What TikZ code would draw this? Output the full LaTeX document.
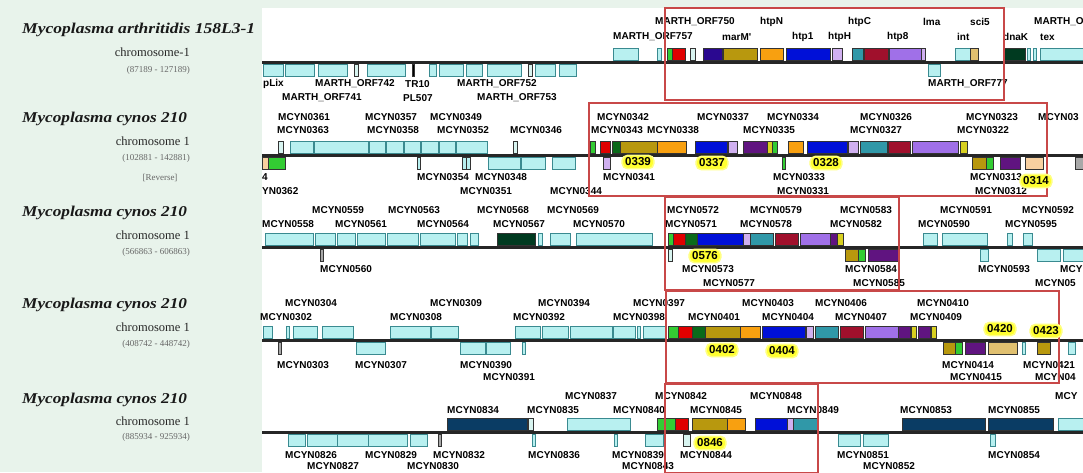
\documentclass[tikz,border=0pt]{standalone}
\usepackage{fontspec}
\usepackage{graphicx}
\setmainfont{Liberation Serif}
\newfontfamily\gfont{Liberation Sans}
\definecolor{bgg}{HTML}{E8F3EB}
\definecolor{cyf}{HTML}{B8F0F0}
\definecolor{cyb}{HTML}{3A8A90}
\definecolor{rbx}{HTML}{C84848}
\definecolor{hly}{HTML}{FFFF30}
\definecolor{gGreen}{HTML}{33CC33}
\definecolor{gRed}{HTML}{E00000}
\definecolor{gDkGreen}{HTML}{0A6A1A}
\definecolor{gOlive}{HTML}{B8980E}
\definecolor{gOrange}{HTML}{F8A010}
\definecolor{gBlue}{HTML}{0010D8}
\definecolor{gLav}{HTML}{D0B0F0}
\definecolor{gTeal}{HTML}{3098A8}
\definecolor{gDkRed}{HTML}{A0102C}
\definecolor{gMPur}{HTML}{A070E8}
\definecolor{gDkPur}{HTML}{601480}
\definecolor{gYel}{HTML}{D8D020}
\definecolor{gTan}{HTML}{E0C070}
\definecolor{gPeach}{HTML}{F8D0A0}
\definecolor{gNavy}{HTML}{0A3C64}
\definecolor{gIndigo}{HTML}{2A0890}
\definecolor{gDkGrB}{HTML}{003A20}
\definecolor{gGray}{HTML}{A8A8A8}
\definecolor{gPale}{HTML}{D8F4F0}
\newcount\labcnt
\newcommand\gnU[3]{\path[gn,fill=#3] (#1,\yu) rectangle (#2,\yu+12);}
\newcommand\gnD[3]{\path[gn,fill=#3] (#1,\yd) rectangle (#2,\yd+12);}
\newcommand\cyU[2]{\path[cg] (#1,\yu) rectangle (#2,\yu+12);}
\newcommand\cyD[2]{\path[cg] (#1,\yd) rectangle (#2,\yd+12);}
\newcommand\GLab[3]{\global\advance\labcnt by 1 \node[glab] (L\the\labcnt) at (#1,#2) {#3};}
\tikzset{
 gn/.style={draw=black!80,line width=0.5pt},
 cg/.style={draw=cyb,fill=cyf,line width=0.9pt},
 bbone/.style={draw=black!85,line width=3pt},
 rbox/.style={draw=rbx,line width=1.4pt},
 glab/.style={anchor=west,inner sep=0pt,font=\gfont\bfseries\fontsize{10}{10}\selectfont,text=black},
 hl/.style={fill=hly,draw=hly!60!white,line width=1.5pt,rounded corners=5pt,inner xsep=3pt,inner ysep=2.5pt,font=\gfont\bfseries\fontsize{11.5}{11.5}\selectfont},
 spn/.style={anchor=west,inner sep=0pt,font=\bfseries\itshape\fontsize{15}{15}\selectfont,text=black!90},
 chr/.style={anchor=east,inner sep=0pt,font=\fontsize{12.5}{12.5}\selectfont,text=black!85},
 crd/.style={anchor=east,inner sep=0pt,font=\fontsize{9}{9}\selectfont,text=black!60},
}
\begin{document}
\begin{tikzpicture}[x=1pt,y=-1pt]
\useasboundingbox (0,0) rectangle (1083,472);
\clip (0,0) rectangle (1083,472);
\fill[bgg] (0,0) rectangle (1083,472);
\fill[white] (262,8) rectangle (1083,472);

% ---------- left labels ----------
\node[spn] (sp1) at (22,30) {\scalebox{1.17}[1]{Mycoplasma arthritidis 158L3-1}};
\node[chr] (ch1) at (190,52) {chromosome-1};
\node[crd] (cr1) at (190,70) {(87189 - 127189)};
\node[spn] (sp2) at (22,119) {\scalebox{1.15}[1]{Mycoplasma cynos 210}};
\node[chr] (ch2) at (190,141) {chromosome 1};
\node[crd] (cr2) at (190,158) {(102881 - 142881)};
\node[crd,anchor=center] (rv2) at (160,178) {[Reverse]};
\node[spn] (sp3) at (22,213) {\scalebox{1.15}[1]{Mycoplasma cynos 210}};
\node[chr] (ch3) at (190,235) {chromosome 1};
\node[crd] (cr3) at (190,252) {(566863 - 606863)};
\node[spn] (sp4) at (22,305) {\scalebox{1.15}[1]{Mycoplasma cynos 210}};
\node[chr] (ch4) at (190,327) {chromosome 1};
\node[crd] (cr4) at (190,344) {(408742 - 448742)};
\node[spn] (sp5) at (22,400) {\scalebox{1.15}[1]{Mycoplasma cynos 210}};
\node[chr] (ch5) at (190,421) {chromosome 1};
\node[crd] (cr5) at (190,437) {(885934 - 925934)};

% ---------- track 1 ----------
\def\yu{48}\def\yd{64}
\foreach \a/\b in {613/638,657/661,955/970,1040/1083,1027/1030,1033/1036} {\cyU{\a}{\b}}
\gnU{667}{672}{gGreen}\gnU{672}{685}{gRed}\gnU{690}{695}{gPale}\gnU{703}{722}{gIndigo}
\gnU{723}{757}{gOlive}\gnU{760}{783}{gOrange}\gnU{786}{830}{gBlue}\gnU{832}{842}{gLav}
\gnU{852}{863}{gTeal}\gnU{864}{888}{gDkRed}\gnU{889}{921}{gMPur}\gnU{921}{925}{gLav}
\gnU{970}{978}{gTan}\gnU{1003}{1025}{gDkGrB}
\foreach \a/\b in {263/283,285/314,318/347,367/405,429/436,439/463,466/482,487/521,535/555,559/576,928/940} {\cyD{\a}{\b}}
\gnD{354}{358}{gPale}\gnD{528}{532}{gPale}\gnD{412}{414}{black}
\draw[bbone] (262,62) -- (1083,62);
\GLab{655}{22}{MARTH\_ORF750}\GLab{760}{22}{htpN}\GLab{848}{22}{htpC}\GLab{923}{22}{lma}\GLab{970}{22}{sci5}\GLab{1034}{22}{MARTH\_O}
\GLab{613}{37}{MARTH\_ORF757}\GLab{722}{37}{marM'}\GLab{792}{37}{htp1}\GLab{828}{37}{htpH}\GLab{887}{37}{htp8}\GLab{957}{37}{int}\GLab{1003}{37}{dnaK}\GLab{1040}{37}{tex}
\GLab{263}{84}{pLix}\GLab{315}{84}{MARTH\_ORF742}\GLab{405}{84}{TR10}\GLab{457}{84}{MARTH\_ORF752}\GLab{928}{84}{MARTH\_ORF777}
\GLab{282}{98}{MARTH\_ORF741}\GLab{403}{98}{PL507}\GLab{477}{98}{MARTH\_ORF753}

% ---------- track 2 ----------
\def\yu{141}\def\yd{157}
\foreach \a/\b in {290/313,314/368,369/385,386/403,404/420,421/438,439/455,456/487} {\cyU{\a}{\b}}
\gnU{278}{283}{gPale}\gnU{513}{517}{gPale}
\gnU{590}{595}{gGreen}\gnU{600}{610}{gRed}\gnU{612}{620}{gDkGreen}\gnU{620}{657}{gOlive}
\gnU{657}{686}{gOrange}\gnU{695}{727}{gBlue}\gnU{728}{737}{gLav}\gnU{743}{767}{gDkPur}
\gnU{767}{772}{gYel}\gnU{772}{777}{gGreen}\gnU{788}{803}{gOrange}\gnU{807}{847}{gBlue}
\gnU{848}{858}{gLav}\gnU{860}{887}{gTeal}\gnU{888}{910}{gDkRed}\gnU{912}{958}{gMPur}\gnU{960}{967}{gYel}
\foreach \a/\b in {488/520,521/545,552/575} {\cyD{\a}{\b}}
\gnD{262}{268}{gPeach}\gnD{268}{285}{gGreen}\gnD{417}{420}{cyf}\gnD{462}{466}{cyf}\gnD{466}{470}{cyf}
\gnD{603}{610}{gLav}\gnD{782}{785}{gGreen}\gnD{972}{986}{gOlive}\gnD{986}{993}{gGreen}
\gnD{1000}{1020}{gDkPur}\gnD{1025}{1043}{gPeach}\gnD{1075}{1083}{gGray}
\draw[bbone] (262,155) -- (1083,155);
\GLab{278}{117}{MCYN0361}\GLab{365}{117}{MCYN0357}\GLab{430}{117}{MCYN0349}\GLab{597}{117}{MCYN0342}
\GLab{697}{117}{MCYN0337}\GLab{767}{117}{MCYN0334}\GLab{860}{117}{MCYN0326}\GLab{966}{117}{MCYN0323}\GLab{1038}{117}{MCYN03}
\GLab{277}{130}{MCYN0363}\GLab{367}{130}{MCYN0358}\GLab{437}{130}{MCYN0352}\GLab{510}{130}{MCYN0346}
\GLab{591}{130}{MCYN0343}\GLab{647}{130}{MCYN0338}\GLab{743}{130}{MCYN0335}\GLab{850}{130}{MCYN0327}\GLab{957}{130}{MCYN0322}
\GLab{262}{177}{4}\GLab{417}{177}{MCYN0354}\GLab{475}{177}{MCYN0348}\GLab{603}{177}{MCYN0341}\GLab{773}{177}{MCYN0333}\GLab{970}{177}{MCYN0313}
\GLab{262}{191}{YN0362}\GLab{460}{191}{MCYN0351}\GLab{550}{191}{MCYN0344}\GLab{777}{191}{MCYN0331}\GLab{975}{191}{MCYN0312}

% ---------- track 3 ----------
\def\yu{233}\def\yd{249}
\foreach \a/\b in {265/313,315/335,337/355,357/385,387/418,420/455,457/467,470/478,538/542,550/570,576/652,923/937,942/987,1007/1012,1023/1032} {\cyU{\a}{\b}}
\gnU{497}{535}{gDkGrB}
\gnU{668}{673}{gGreen}\gnU{673}{685}{gRed}\gnU{685}{697}{gDkGreen}\gnU{697}{743}{gBlue}
\gnU{743}{750}{gLav}\gnU{750}{773}{gTeal}\gnU{775}{798}{gDkRed}\gnU{800}{830}{gMPur}
\gnU{830}{837}{gDkPur}\gnU{837}{843}{gYel}
\foreach \a/\b in {980/988,1037/1060,1063/1083} {\cyD{\a}{\b}}
\gnD{320}{323}{gGray}\gnD{668}{672}{gPale}\gnD{845}{858}{gOlive}\gnD{858}{865}{gGreen}\gnD{868}{898}{gDkPur}
\draw[bbone] (262,247) -- (1083,247);
\GLab{312}{210}{MCYN0559}\GLab{388}{210}{MCYN0563}\GLab{477}{210}{MCYN0568}\GLab{547}{210}{MCYN0569}
\GLab{667}{210}{MCYN0572}\GLab{750}{210}{MCYN0579}\GLab{840}{210}{MCYN0583}\GLab{940}{210}{MCYN0591}\GLab{1022}{210}{MCYN0592}
\GLab{262}{224}{MCYN0558}\GLab{335}{224}{MCYN0561}\GLab{417}{224}{MCYN0564}\GLab{493}{224}{MCYN0567}\GLab{573}{224}{MCYN0570}
\GLab{665}{224}{MCYN0571}\GLab{740}{224}{MCYN0578}\GLab{830}{224}{MCYN0582}\GLab{918}{224}{MCYN0590}\GLab{1005}{224}{MCYN0595}
\GLab{320}{269}{MCYN0560}\GLab{682}{269}{MCYN0573}\GLab{845}{269}{MCYN0584}\GLab{978}{269}{MCYN0593}\GLab{1060}{269}{MCY}
\GLab{703}{283}{MCYN0577}\GLab{853}{283}{MCYN0585}\GLab{1035}{283}{MCYN05}

% ---------- track 4 ----------
\def\yu{326}\def\yd{342}
\foreach \a/\b in {263/272,286/289,293/317,322/353,390/430,431/458,515/540,542/568,570/612,613/635,637/640,643/665} {\cyU{\a}{\b}}
\gnU{668}{678}{gGreen}\gnU{678}{692}{gRed}\gnU{692}{705}{gDkGreen}\gnU{705}{740}{gOlive}
\gnU{740}{760}{gOrange}\gnU{762}{805}{gBlue}\gnU{806}{813}{gLav}\gnU{815}{838}{gTeal}
\gnU{840}{863}{gDkRed}\gnU{865}{898}{gMPur}\gnU{898}{910}{gDkPur}\gnU{911}{916}{gYel}
\gnU{918}{930}{gDkPur}\gnU{931}{936}{gYel}
\foreach \a/\b in {356/385,460/485,486/510,522/525,1022/1025,1068/1075} {\cyD{\a}{\b}}
\gnD{278}{281}{gGray}\gnD{943}{955}{gOlive}\gnD{955}{962}{gGreen}\gnD{965}{985}{gDkPur}
\gnD{988}{1017}{gTan}\gnD{1037}{1050}{gOlive}
\draw[bbone] (262,340) -- (1083,340);
\GLab{285}{303}{MCYN0304}\GLab{430}{303}{MCYN0309}\GLab{538}{303}{MCYN0394}\GLab{633}{303}{MCYN0397}
\GLab{742}{303}{MCYN0403}\GLab{815}{303}{MCYN0406}\GLab{917}{303}{MCYN0410}
\GLab{260}{317}{MCYN0302}\GLab{390}{317}{MCYN0308}\GLab{513}{317}{MCYN0392}\GLab{613}{317}{MCYN0398}
\GLab{688}{317}{MCYN0401}\GLab{762}{317}{MCYN0404}\GLab{835}{317}{MCYN0407}\GLab{910}{317}{MCYN0409}
\GLab{277}{365}{MCYN0303}\GLab{355}{365}{MCYN0307}\GLab{460}{365}{MCYN0390}\GLab{942}{365}{MCYN0414}\GLab{1023}{365}{MCYN0421}
\GLab{483}{377}{MCYN0391}\GLab{950}{377}{MCYN0415}\GLab{1035}{377}{MCYN04}

% ---------- track 5 ----------
\def\yu{418}\def\yd{434}
\foreach \a/\b in {567/630,1058/1083} {\cyU{\a}{\b}}
\gnU{447}{527}{gNavy}\gnU{528}{533}{gPale}\gnU{657}{665}{gGreen}
\gnU{665}{675}{gGreen}\gnU{675}{688}{gRed}\gnU{692}{727}{gOlive}\gnU{727}{745}{gOrange}
\gnU{755}{787}{gBlue}\gnU{787}{793}{gLav}\gnU{793}{817}{gTeal}\gnU{902}{985}{gNavy}\gnU{988}{1053}{gNavy}
\foreach \a/\b in {288/305,307/337,337/368,368/407,410/427,532/535,614/617,645/663,838/860,863/888,990/995} {\cyD{\a}{\b}}
\gnD{438}{441}{gGray}\gnD{683}{690}{gPale}
\draw[bbone] (262,432) -- (1083,432);
\GLab{565}{396}{MCYN0837}\GLab{655}{396}{MCYN0842}\GLab{750}{396}{MCYN0848}\GLab{1055}{396}{MCY}
\GLab{447}{410}{MCYN0834}\GLab{527}{410}{MCYN0835}\GLab{613}{410}{MCYN0840}\GLab{690}{410}{MCYN0845}
\GLab{787}{410}{MCYN0849}\GLab{900}{410}{MCYN0853}\GLab{988}{410}{MCYN0855}
\GLab{285}{455}{MCYN0826}\GLab{365}{455}{MCYN0829}\GLab{433}{455}{MCYN0832}\GLab{528}{455}{MCYN0836}
\GLab{612}{455}{MCYN0839}\GLab{680}{455}{MCYN0844}\GLab{837}{455}{MCYN0851}\GLab{988}{455}{MCYN0854}
\GLab{307}{466}{MCYN0827}\GLab{407}{466}{MCYN0830}\GLab{622}{466}{MCYN0843}\GLab{863}{466}{MCYN0852}

% ---------- red frames ----------
\draw[rbox] (665,8) rectangle (1004,100);
\draw[rbox] (589,103) rectangle (1047,196);
\draw[rbox] (665,197) rectangle (899,290);
\draw[rbox] (666,291) rectangle (1059,383);
\draw[rbox] (665,384) rectangle (818,473);

% ---------- highlights ----------
\node[hl] (h339) at (638,162) {0339};
\node[hl] (h337) at (712,163) {0337};
\node[hl] (h328) at (826,163) {0328};
\node[hl] (h314) at (1036,181) {0314};
\node[hl] (h576) at (705,256) {0576};
\node[hl] (h402) at (722,350) {0402};
\node[hl] (h404) at (782,351) {0404};
\node[hl] (h420) at (1000,329) {0420};
\node[hl] (h423) at (1046,331) {0423};
\node[hl] (h846) at (710,443) {0846};
\end{tikzpicture}
\end{document}
